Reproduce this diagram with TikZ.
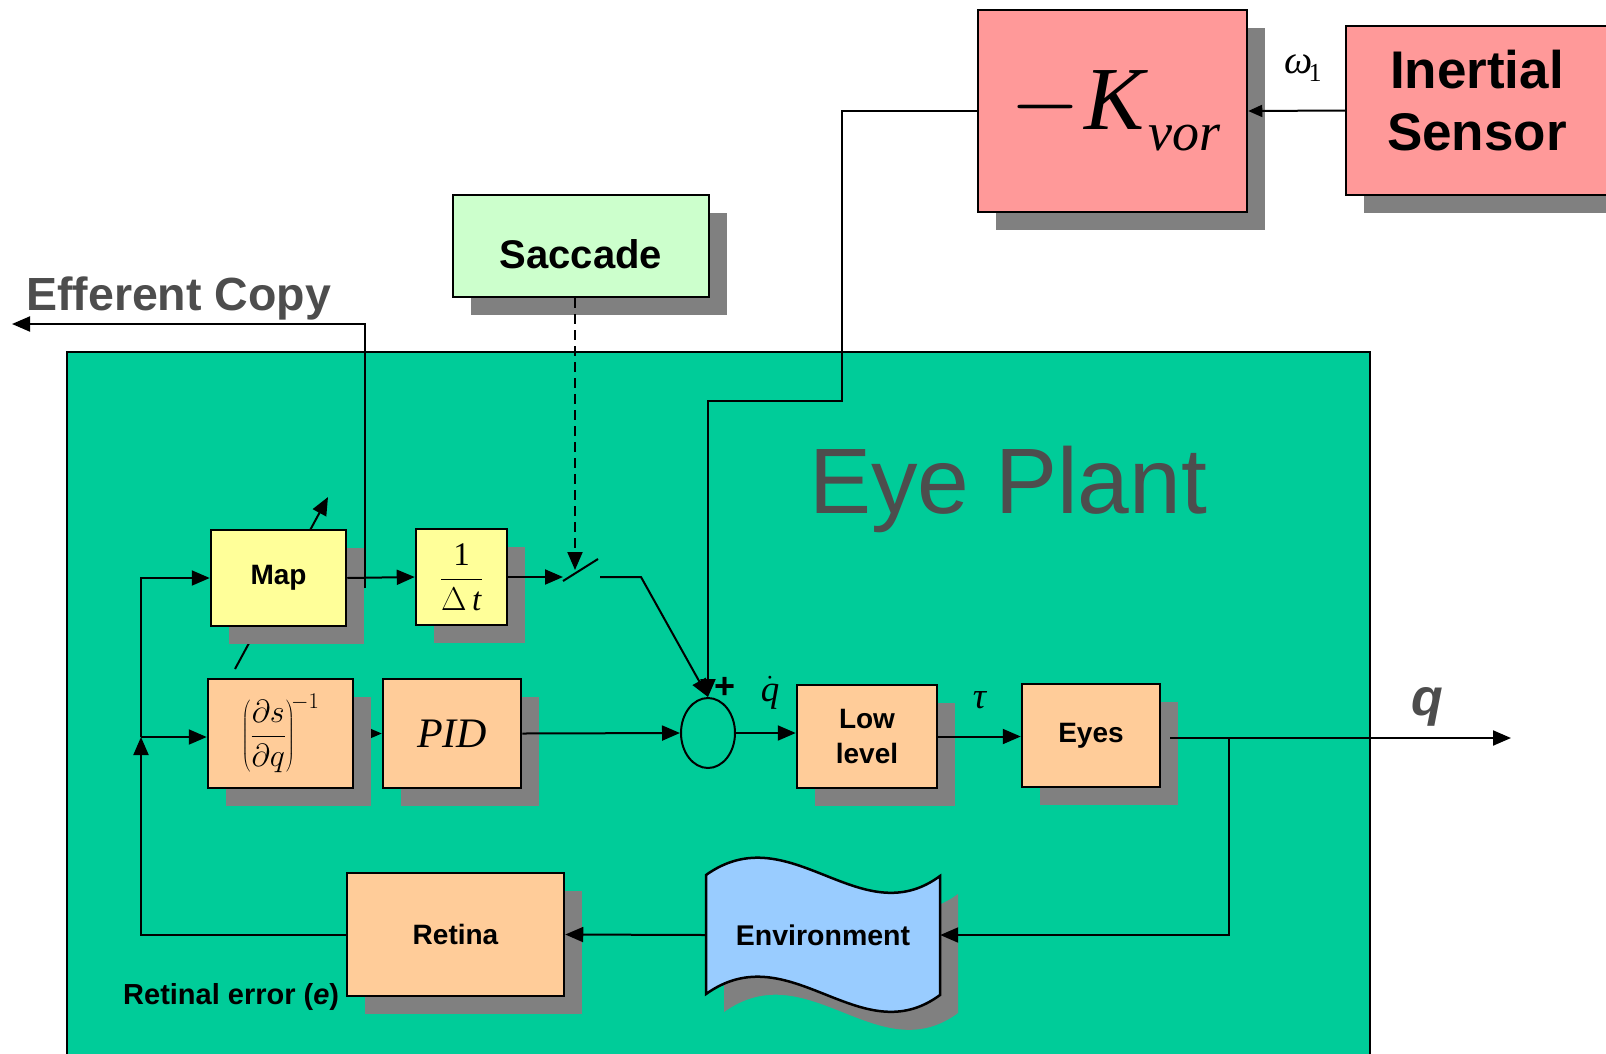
\RequirePackage{fix-cm}
\documentclass[tikz,border=0pt]{standalone}
\usepackage{fontspec}
\setmainfont{Liberation Serif}
\setsansfont{Liberation Sans}
\usetikzlibrary{arrows.meta,shapes.geometric,shadows}
\definecolor{plant}{HTML}{00CC99}
\definecolor{shadowgray}{HTML}{808080}
\definecolor{yel}{HTML}{FFFF99}
\definecolor{org}{HTML}{FFCC99}
\definecolor{pink}{HTML}{FF9999}
\definecolor{saccgreen}{HTML}{CCFFCC}
\definecolor{envblue}{HTML}{99CCFF}
\definecolor{txtgray}{HTML}{4D4D4D}
\pgfdeclarelayer{bg}
\pgfdeclarelayer{mid}
\pgfsetlayers{bg,mid,main}
\begin{document}
\begin{tikzpicture}[x=1pt,y=-1pt,
  blk/.style={draw=black, line width=2.5pt, inner sep=0pt,
    general shadow={fill=shadowgray, shadow xshift=18pt, shadow yshift=-18pt}},
  lbl/.style={font=\sffamily\bfseries\fontsize{28}{35}\selectfont, align=center},
  arr/.style={line width=2pt, -{Triangle[length=18pt,width=15pt]}},
  ln/.style={line width=2pt},
  dashline/.style={dash pattern=on 10pt off 6pt}]
\useasboundingbox (0,0) rectangle (1606,1053);
\begin{pgfonlayer}{bg}
  \fill[white] (0,0) rectangle (1606,1053);
  \draw[fill=plant, line width=2pt] (67,352) rectangle (1370,1075);
\end{pgfonlayer}

% coordinates
\coordinate (swin) at (563,577);
\coordinate (swb1) at (563,581);
\coordinate (swb2) at (598,559);
\coordinate (swout) at (600,577);
\coordinate (swbend) at (641,577);
\coordinate (swtop) at (575,570);
\coordinate (vor1) at (842,401);
\coordinate (ef0) at (365,588);
\coordinate (efend) at (12,324);
\coordinate (fbj) at (141,737);
\coordinate (eo) at (1170,738);
\coordinate (qj) at (1229,738);
\coordinate (qend) at (1511,738);
\coordinate (adj0) at (235,669);
\coordinate (adj1) at (328,497);

% environment shape (shadow + body)
\fill[shadowgray, shift={(18,18)}] (706,875) .. controls (790,815) and (860,935) .. (940,876)
  -- (940,995) .. controls (860,1054) and (790,934) .. (706,994) -- cycle;
\draw[fill=envblue, line width=2.5pt] (706,875) .. controls (790,815) and (860,935) .. (940,876)
  -- (940,995) .. controls (860,1054) and (790,934) .. (706,994) -- cycle;

% blocks
\node[blk, fill=pink, minimum width=269pt, minimum height=202pt] (kvor) at (1112.5,111)
  {\fontsize{90}{90}\selectfont\kern6pt$-$\kern4pt\textit{K}\raisebox{-21pt}{\fontsize{54}{54}\selectfont\textit{vor}}};
\node[blk, fill=pink, minimum width=262pt, minimum height=169pt] (ins) at (1477,110.5) {};
\node[lbl, inner sep=0pt, font=\sffamily\bfseries\fontsize{53}{62}\selectfont] (instext) at (1477,101) {Inertial\\Sensor};
\node[blk, fill=saccgreen, minimum width=256pt, minimum height=102pt, lbl,
  text height=44pt, text depth=0pt,
  font=\sffamily\bfseries\fontsize{40}{46}\selectfont] (sacc) at (581,246) {Saccade};
\node[blk, fill=yel, minimum width=135pt, minimum height=96pt, lbl] (map) at (278.5,578) {Map};
\node[blk, fill=yel, minimum width=91pt, minimum height=96pt,
  font=\fontsize{33}{38}\selectfont] (dt) at (461.5,577) {$\displaystyle\frac{\mbox{1}}{\Delta\,\mbox{\textit{t}}}$};
\node[blk, fill=org, minimum width=145pt, minimum height=109pt,
  font=\fontsize{32}{38}\selectfont] (dsdq) at (280.5,733.5)
  {$\displaystyle\left(\frac{\partial s}{\partial q}\right)^{\!-1}$};
\node[blk, fill=org, minimum width=138pt, minimum height=109pt,
  font=\fontsize{42}{48}\selectfont] (pid) at (452,733.5) {\textit{PID}};
\node[blk, fill=org, minimum width=140pt, minimum height=103pt, lbl] (low) at (867,736.5) {Low\\level};
\node[blk, fill=org, minimum width=138pt, minimum height=103pt, lbl] (eyes) at (1091,735.5) {Eyes};
\node[blk, fill=org, minimum width=217pt, minimum height=123pt, lbl] (retina) at (455.5,934.5) {Retina};
\node[minimum width=234pt, inner sep=0pt, lbl, font=\sffamily\bfseries\fontsize{28.5}{35}\selectfont] (env) at (823,935) {Environment};
\node[ellipse, draw, line width=2pt, minimum width=54pt, minimum height=70pt, inner sep=0pt] (sum) at (708,733) {};

% hidden-under-shadow lines
\begin{pgfonlayer}{mid}
  \draw[arr] (adj0) -- (adj1);
  \draw[arr] (dsdq.east) -- (pid.west);
\end{pgfonlayer}

% connectors
\draw[line width=2pt, -{Triangle[length=14pt,width=12pt]}] (ins.west) -- (kvor.east);
\draw[arr] (kvor.west) -| (vor1) -| (sum.north);
\draw[arr, dashline] (sacc.south -| swtop) -- (swtop);
\draw[arr] (map.east) -- (dt.west);
\draw[arr] (dt.east) -- (swin);
\draw[ln] (swb1) -- (swb2);
\draw[arr] (swout) -- (swbend) -- (sum.north);
\draw[arr] (ef0) |- (efend);
\draw[arr] (retina.west) -| (fbj);
\draw[arr] (fbj) -- (fbj -| dsdq.west);
\draw[arr] (fbj) |- (map.west);
\draw[arr] (pid.east) -- (sum.west);
\draw[arr] (sum.east) -- (sum.east -| low.west);
\draw[arr] (low.east) -- (low.east -| eyes.west);
\draw[arr] (eo) -- (qend);
\draw[arr] (qj) |- (env.east);
\draw[arr] (env.west) -- (retina.east);

% labels
\node[inner sep=0pt, font=\fontsize{40}{40}\selectfont] (wlbl) at (1303,68)
  {\textit{ω}\kern-4pt\raisebox{-8pt}{\fontsize{26}{26}\selectfont 1}};
\node[inner sep=0pt, font=\fontsize{37}{37}\selectfont] (qdot) at (770,693) {$\dot{\mbox{\textit{q}}}$};
\node[inner sep=0pt, font=\fontsize{37}{37}\selectfont] (tau) at (980,700) {\textit{τ}};
\node[inner sep=0pt, font=\sffamily\bfseries\fontsize{36}{36}\selectfont] (plus) at (725,688) {+};
\node[inner sep=0pt, anchor=base, text=txtgray, font=\sffamily\bfseries\itshape\fontsize{52}{52}\selectfont] (qlbl) at (1427,715) {q};
\node[inner sep=0pt, anchor=base west, text=txtgray, font=\sffamily\fontsize{93}{93}\selectfont] (eplant) at (809,513) {Eye Plant};
\node[inner sep=0pt, anchor=base west, text=txtgray, font=\sffamily\bfseries\fontsize{46.5}{46.5}\selectfont] (efftxt) at (26,310) {Efferent Copy};
\node[inner sep=0pt, anchor=base west, font=\sffamily\bfseries\fontsize{29}{29}\selectfont] (reterr) at (123,1004) {Retinal error (\textit{e})};
\end{tikzpicture}
\end{document}
